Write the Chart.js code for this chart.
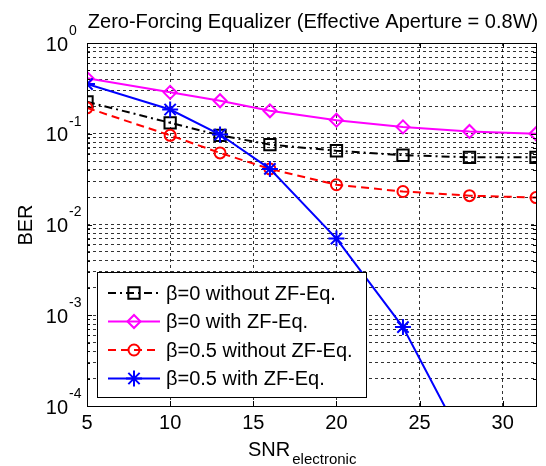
<!DOCTYPE html>
<html>
<head>
<meta charset="utf-8">
<script src="https://cdn.jsdelivr.net/npm/chart.js@4.4.1/dist/chart.umd.min.js"></script>
<style>
  html, body { margin: 0; padding: 0; background: #fff; }
</style>
</head>
<body>
<canvas id="berChart" width="546" height="466"></canvas>
<script>
// BER vs SNR, zero-forcing equalizer
const snr = [5, 10, 13, 16, 20, 24, 28, 32];
const berB0NoEq  = [0.225, 0.132, 0.096, 0.076, 0.065, 0.058, 0.055, 0.055];
const berB0Eq    = [0.408, 0.286, 0.231, 0.179, 0.141, 0.119, 0.106, 0.100];
const berB05NoEq = [0.193, 0.096, 0.0615, 0.041, 0.0274, 0.0231, 0.0208, 0.0198];
const berB05Eq   = [0.353, 0.185, 0.098, 0.041, 0.0070, 0.00074, 0.00003, null];

const seriesLabels = ["β=0 without ZF-Eq.", "β=0 with ZF-Eq.", "β=0.5 without ZF-Eq.", "β=0.5 with ZF-Eq."];
const xTicks = [5, 10, 15, 20, 25, 30];
const yExponents = [0, -1, -2, -3, -4];

const FONT = '"Liberation Sans", Arial, Helvetica, sans-serif';

function pts(arr) {
  return snr.map((x, i) => ({ x: x, y: arr[i] })).filter(p => p.y !== null);
}

const series = [
  { data: berB0NoEq,  color: "#000000", dash: [8, 4, 2, 4], style: "rect",    radius: 8, order: 3 },
  { data: berB0Eq,    color: "#ff00ff", dash: [],           style: "rectRot", radius: 6.5, order: 2 },
  { data: berB05NoEq, color: "#ff0000", dash: [8, 5],       style: "circle",  radius: 5.5, order: 1 },
  { data: berB05Eq,   color: "#0000ff", dash: [],           style: "star",    radius: 8, order: 0 }
];

// y grid at 1..9 x 10^n
const logTicks = [];
for (let e = -4; e < 0; e++) {
  for (let m = 1; m <= 9; m++) logTicks.push(m * Math.pow(10, e));
}
logTicks.push(1);

// axes box, inward ticks, labels and legend
const decorPlugin = {
  id: "decor",
  beforeDraw(chart) {
    const ctx = chart.ctx;
    ctx.save();
    ctx.fillStyle = "#fff";
    ctx.fillRect(0, 0, chart.width, chart.height);
    ctx.restore();
  },
  afterDatasetsDraw(chart) {
    const ctx = chart.ctx;
    const a = chart.chartArea;
    const xs = chart.scales.x, ys = chart.scales.y;
    ctx.save();

    // tick marks
    ctx.strokeStyle = "#000";
    ctx.lineWidth = 1;
    ctx.setLineDash([]);
    ctx.beginPath();
    xTicks.forEach(v => {
      const px = Math.round(xs.getPixelForValue(v)) + 0.5;
      ctx.moveTo(px, a.bottom); ctx.lineTo(px, a.bottom - 5);
      ctx.moveTo(px, a.top); ctx.lineTo(px, a.top + 5);
    });
    logTicks.forEach(v => {
      const py = Math.round(ys.getPixelForValue(v)) + 0.5;
      const major = Math.abs(Math.log10(v) - Math.round(Math.log10(v))) < 1e-9;
      const len = major ? 5 : 3;
      ctx.moveTo(a.left, py); ctx.lineTo(a.left + len, py);
      ctx.moveTo(a.right, py); ctx.lineTo(a.right - len, py);
    });
    ctx.stroke();

    // box
    ctx.strokeRect(Math.round(a.left) + 0.5, Math.round(a.top) + 0.5,
      Math.round(a.right - a.left), Math.round(a.bottom - a.top));

    // legend
    const lx = 97.5, ly = 272.5, lw = 269, lh = 125;
    ctx.fillStyle = "#fff";
    ctx.fillRect(lx, ly, lw, lh);
    ctx.strokeStyle = "#000";
    ctx.lineWidth = 1;
    ctx.strokeRect(lx, ly, lw, lh);
    ctx.font = "20px " + FONT;
    ctx.textBaseline = "middle";
    ctx.textAlign = "left";
    seriesLabels.forEach((label, i) => {
      const s = series[i];
      const cy = 293 + i * 28.5;
      ctx.strokeStyle = s.color;
      ctx.lineWidth = 2;
      ctx.setLineDash(s.dash);
      ctx.beginPath();
      ctx.moveTo(108, cy); ctx.lineTo(160, cy);
      ctx.stroke();
      ctx.setLineDash([]);
      ctx.fillStyle = "rgba(0,0,0,0)";
      Chart.helpers.drawPoint(ctx, { pointStyle: s.style, radius: s.radius, rotation: 0, borderWidth: 2 }, 134, cy);
      ctx.fillStyle = "#000";
      ctx.fillText(label, 166, cy + 1);
    });

    // x tick labels
    ctx.fillStyle = "#000";
    ctx.font = "20px " + FONT;
    ctx.textAlign = "center";
    ctx.textBaseline = "middle";
    xTicks.forEach(v => ctx.fillText(String(v), xs.getPixelForValue(v), 423));

    // y tick labels 10^n
    yExponents.forEach(e => {
      const py = ys.getPixelForValue(Math.pow(10, e));
      ctx.font = "20px " + FONT;
      ctx.textAlign = "right";
      ctx.fillText("10", 68, py + 2);
      ctx.font = "14px " + FONT;
      ctx.textAlign = "left";
      ctx.fillText(String(e), 69, py - 12);
    });

    // title
    ctx.font = "20px " + FONT;
    ctx.textAlign = "center";
    ctx.textBaseline = "alphabetic";
    ctx.fillText("Zero-Forcing Equalizer (Effective Aperture = 0.8W)", 313, 28);

    // x axis title with subscript
    ctx.textAlign = "left";
    ctx.font = "20px " + FONT;
    ctx.fillText("SNR", 248, 456);
    const wSNR = ctx.measureText("SNR").width;
    ctx.font = "15px " + FONT;
    ctx.fillText("electronic", 248 + wSNR + 2, 464);

    // y axis title
    ctx.font = "20px " + FONT;
    ctx.translate(26, 225);
    ctx.rotate(-Math.PI / 2);
    ctx.textAlign = "center";
    ctx.textBaseline = "middle";
    ctx.fillText("BER", 0, 0);

    ctx.restore();
  }
};

const ctx = document.getElementById("berChart").getContext("2d");

new Chart(ctx, {
  type: "line",
  data: {
    datasets: series.map((s, i) => ({
      label: seriesLabels[i],
      data: pts(s.data),
      borderColor: s.color,
      borderWidth: 2,
      borderDash: s.dash,
      pointStyle: s.style,
      pointRadius: s.radius,
      pointBorderWidth: 2,
      pointBorderColor: s.color,
      pointBackgroundColor: "rgba(0,0,0,0)",
      tension: 0,
      order: s.order
    }))
  },
  options: {
    responsive: false,
    animation: false,
    devicePixelRatio: 1,
    layout: { padding: { left: 87, right: 5, top: 43, bottom: 60 } },
    plugins: {
      legend: { display: false },
      tooltip: { enabled: false },
      title: { display: false }
    },
    scales: {
      x: {
        type: "linear",
        min: 5,
        max: 32,
        afterBuildTicks: scale => { scale.ticks = xTicks.map(v => ({ value: v })); },
        afterFit: scale => { scale.height = 0; },
        ticks: { display: false },
        grid: { color: "rgba(0,0,0,0.8)", lineWidth: 1, drawTicks: false },
        border: { display: false, dash: [3, 3] }
      },
      y: {
        type: "logarithmic",
        min: 1e-4,
        max: 1,
        afterBuildTicks: scale => { scale.ticks = logTicks.map(v => ({ value: v })); },
        afterFit: scale => { scale.width = 0; },
        ticks: { display: false, autoSkip: false },
        grid: { color: "rgba(0,0,0,0.8)", lineWidth: 1, drawTicks: false },
        border: { display: false, dash: [3, 3] }
      }
    }
  },
  plugins: [decorPlugin]
});
</script>
</body>
</html>
